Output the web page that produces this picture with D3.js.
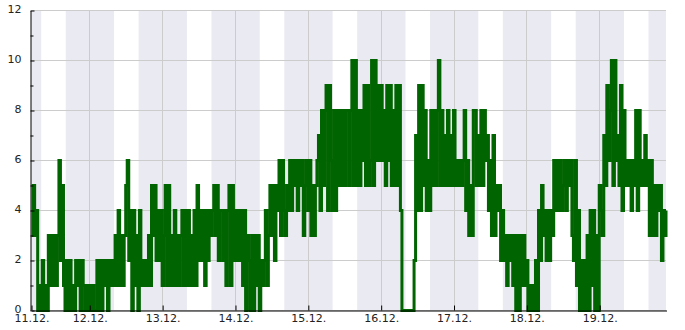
<!DOCTYPE html>
<html>
<head>
<meta charset="utf-8">
<script src="https://cdn.jsdelivr.net/npm/d3@7"></script>
<style>
  body { margin: 0; background: #fff; }
  text { font-family: "DejaVu Sans", sans-serif; font-size: 11px; fill: #222; }
</style>
</head>
<body>
<div id="chart"></div>
<script>
// readings every 30 minutes, starting 11.12. 05:00
var counts = [
  3,5,3,4,0,1,0,2,0,1, 0,3,1,3,1,3,1,3,6,2, 5,1,0,2,0,2,0,1,0,2,
  1,2,0,2,1,0,1,0,1,0,1,0, 0,2,0, 2,0,2,1,2,0,2,1,2,
  1,3,1,4,1,3,1,3,5,6,2, 4,0,4,1,3,0,4,1,2,1,2,1,3,1,
  5,3,5,2,4,2,4,1,3,5,1,5,1, 3,1,4,1,3,1,3,4,1,4,1,4,1,3,1,4,1,5,2,
  4,2,4,1,4,2,4,3,4,5,3,5,2,4, 4,2,4,1,4,5,1,5,2,4,2,4,2,4,1,4,0,3,
  2,0,3,0,3,1,3,0,2,1,2,4,1,3,5,3,5,2,5,4,6,3,6,4,3,5,4,
  6,4,6,5,6,4,6,5,6,3,5,6,4,6,3,5,3,5,
  6,7,4,8,5,8,9,4,9,6,4,8,4,8,5,8,5,8,5,8, 8,5,8,10,5,10,
  5,8,5,8,6,9,5,9,5,6,10,5,10,6,9,6,9,6,8,5,9,6,9,5,8,5,9,5,9,4,
  0,0,0,0,0,0,0,0,2,
  7,4,9,4,9,5,8,4,6,4,8,5,8,5,8,10,5,8,5,7,5,8,5,7,5,8,5,6,5,6,5,6,8,4,
  6,3,5,3,8, 8,5,7,5,8,5,8,6,7,4,6,3,7,3,5,4,5,2,4,2,
  3,1,3,2,3,1,3,0,3,0,3,1,3,1,2,0,1,0,1,0,2,0,4,2,
  5,3,4,2,4,2,4,3,6,4,6,4,6,4,5,6,4,6,5,6,
  3,2,6,1,4,0,2,0,2,0,3,0,4,1,4,0,3,0,5,
  4,3,7,5,9,6,8,10,5,10,6,7,5,9,4,8,5,6,5,6,4,6,5,8,4,8,5,6,5,7,5,6,3,6,3,5,3,5,4,5,2,4,3,4
];
var startTime = new Date(2017, 11, 11, 5, 0);
var stepMinutes = 30;
var rangeStart = new Date(2017, 11, 11, 4, 48);
var rangeEnd = new Date(2017, 11, 19, 22, 0);
var dayLabels = ['11.12.', '12.12.', '13.12.', '14.12.', '15.12.', '16.12.', '17.12.', '18.12.', '19.12.'];
var yMajor = [0, 2, 4, 6, 8, 10, 12];
var yMinor = [1, 3, 5, 7, 9, 11];
var sunset = [16, 15], sunrise = [8, 10];

var width = 685,
    height = 330,
    plotLeft = 31, plotRight = 666, plotTop = 10, plotBottom = 310;

var svg = d3.select('#chart').append('svg')
  .attr('width', width)
  .attr('height', height);

var x = d3.scaleTime()
  .domain([rangeStart, rangeEnd])
  .range([plotLeft, plotRight]);

var y = d3.scaleLinear()
  .domain([0, 12])
  .range([plotBottom + 0.5, plotTop + 0.5]);

var data = counts.map(function(v, i) {
  return { t: d3.timeMinute.offset(startTime, i * stepMinutes), v: v };
});

// night bands
var nights = d3.timeDay.range(new Date(2017, 11, 10), new Date(2017, 11, 20)).map(function(d) {
  var s = new Date(d); s.setHours(sunset[0], sunset[1]);
  var e = d3.timeDay.offset(d, 1); e.setHours(sunrise[0], sunrise[1]);
  return [s < rangeStart ? rangeStart : s, e > rangeEnd ? rangeEnd : e];
}).filter(function(n) { return n[0] < n[1]; });

svg.append('g').selectAll('rect')
  .data(nights)
  .enter().append('rect')
  .attr('x', function(d) { return x(d[0]); })
  .attr('width', function(d) { return x(d[1]) - x(d[0]); })
  .attr('y', plotTop)
  .attr('height', plotBottom - plotTop)
  .attr('fill', '#eaeaf2');

// grid
var midnights = d3.timeDay.range(new Date(2017, 11, 12), new Date(2017, 11, 20));
svg.append('g').selectAll('line')
  .data(yMajor)
  .enter().append('line')
  .attr('x1', plotLeft).attr('x2', plotRight)
  .attr('y1', function(d) { return y(d); })
  .attr('y2', function(d) { return y(d); })
  .attr('stroke', '#cccccc');
svg.append('g').selectAll('line')
  .data(midnights)
  .enter().append('line')
  .attr('x1', function(d) { return Math.round(x(d)) + 0.5; })
  .attr('x2', function(d) { return Math.round(x(d)) + 0.5; })
  .attr('y1', plotTop).attr('y2', plotBottom)
  .attr('stroke', '#cccccc');

var line = d3.line()
  .x(function(d) { return x(d.t); })
  .y(function(d) { return y(d.v); })
  .curve(d3.curveStepAfter);

svg.append('path')
  .datum(data)
  .attr('d', line)
  .attr('fill', 'none')
  .attr('stroke', '#006400')
  .attr('stroke-width', 3);

// axes
var xTicks = [rangeStart].concat(midnights);
var xAxis = d3.axisBottom(x)
  .tickValues(xTicks)
  .tickFormat(function(d, i) { return dayLabels[i]; })
  .tickSizeInner(-5)
  .tickSizeOuter(0)
  .tickPadding(4);

svg.append('g')
  .attr('transform', 'translate(0.5,' + (plotBottom + 0.5) + ')')
  .call(xAxis);

var gy = svg.append('g')
  .attr('transform', 'translate(' + (plotLeft - 0.5) + ',0)')
  .call(d3.axisLeft(y).tickValues(yMajor).tickSizeInner(-4).tickSizeOuter(0).tickPadding(9));
gy.selectAll('.tick text').attr('dy', '0.2em');

svg.append('g')
  .attr('transform', 'translate(' + (plotLeft - 0.5) + ',0)')
  .call(d3.axisLeft(y).tickValues(yMinor).tickSizeInner(-3).tickSizeOuter(0).tickFormat(''))
  .select('.domain').remove();

svg.selectAll('.tick text')
  .attr('font-family', null)
  .attr('font-size', null);
svg.selectAll('.domain, .tick line').attr('stroke', '#000');
</script>
</body>
</html>
